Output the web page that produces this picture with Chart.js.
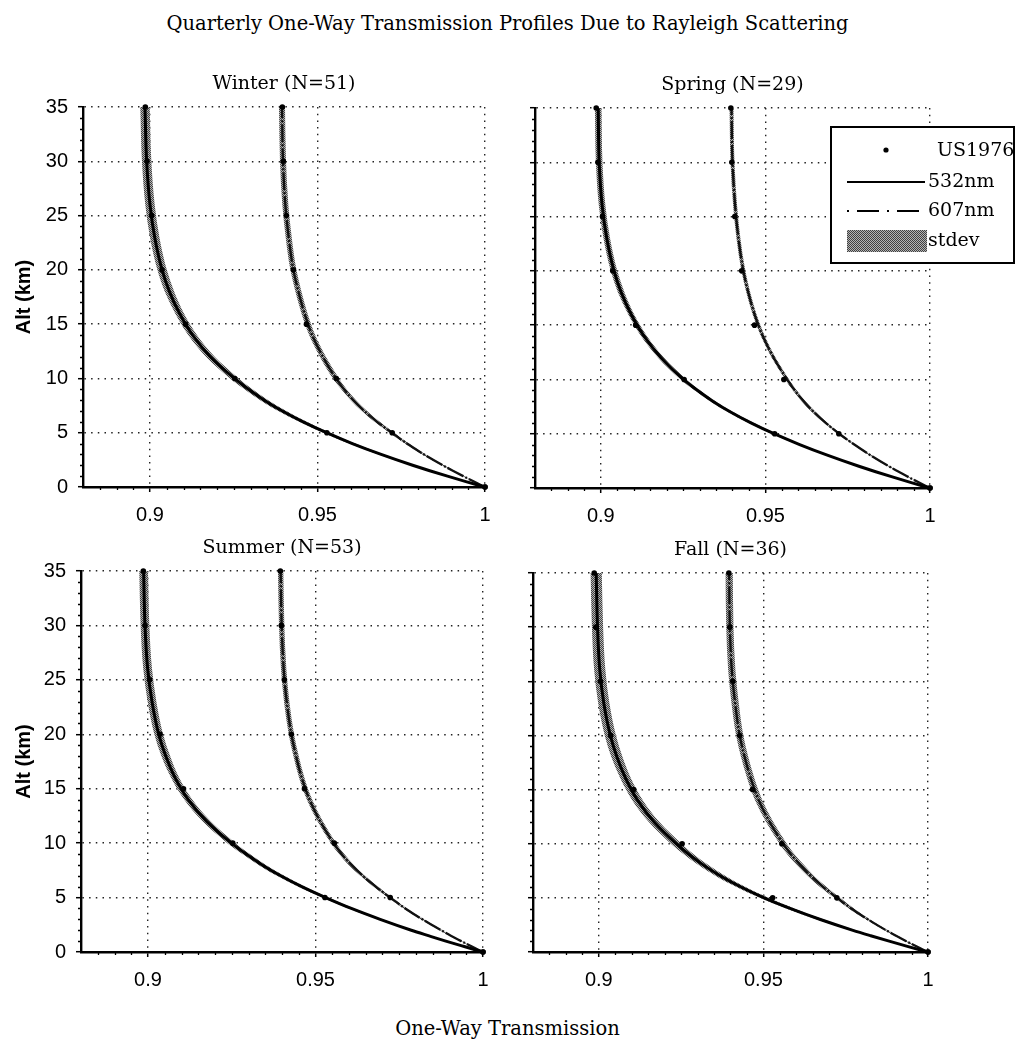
<!DOCTYPE html>
<html>
<head>
<meta charset="utf-8">
<script src="https://cdn.jsdelivr.net/npm/chart.js@4.4.0/dist/chart.umd.min.js"></script>
<style>
  body { margin: 0; background: #fff; width: 1015px; height: 1040px; position: relative; overflow: hidden; }
  canvas { position: absolute; }
  .ttl { position: absolute; left: 0; width: 1015px; text-align: center; font-family: "DejaVu Serif", serif;
         font-size: 19.5px; line-height: 19px; color: #000; }
</style>
</head>
<body>
<div class="ttl" style="top:14px">Quarterly One-Way Transmission Profiles Due to Rayleigh Scattering</div>
<canvas id="winter" width="505" height="472" style="left:0px;top:60px"></canvas>
<canvas id="spring" width="510" height="472" style="left:505px;top:61px"></canvas>
<canvas id="summer" width="503" height="473" style="left:0px;top:524px"></canvas>
<canvas id="fall" width="445" height="471" style="left:503px;top:526px"></canvas>
<div class="ttl" style="top:1019px">One-Way Transmission</div>
<script>
// altitude grid (km) shared by all profiles
var altitudes = [0, 0.5, 1, 1.5, 2, 3, 4, 5, 6, 7, 8, 9, 10, 12, 14, 16, 18, 20, 23, 26, 30, 35];

var winter532 = [1.0000, 0.9943, 0.9888, 0.9835, 0.9784, 0.9690, 0.9604, 0.9527, 0.9457, 0.9395, 0.9341, 0.9294, 0.9252, 0.9180, 0.9127, 0.9088, 0.9058, 0.9036, 0.9014, 0.9000, 0.8990, 0.8985];
var winter607 = [1.0000, 0.9967, 0.9935, 0.9904, 0.9874, 0.9818, 0.9767, 0.9722, 0.9678, 0.9640, 0.9607, 0.9579, 0.9555, 0.9516, 0.9484, 0.9461, 0.9443, 0.9428, 0.9414, 0.9404, 0.9397, 0.9394];
var spring532 = [1.0000, 0.9943, 0.9888, 0.9835, 0.9784, 0.9690, 0.9604, 0.9526, 0.9456, 0.9394, 0.9340, 0.9293, 0.9251, 0.9183, 0.9131, 0.9092, 0.9062, 0.9040, 0.9018, 0.9004, 0.8995, 0.8992];
var spring607 = [1.0000, 0.9967, 0.9935, 0.9905, 0.9875, 0.9820, 0.9770, 0.9724, 0.9683, 0.9647, 0.9616, 0.9589, 0.9566, 0.9525, 0.9492, 0.9467, 0.9448, 0.9433, 0.9418, 0.9408, 0.9400, 0.9397];
var summer532 = [1.0000, 0.9944, 0.9889, 0.9837, 0.9786, 0.9693, 0.9607, 0.9530, 0.9459, 0.9396, 0.9341, 0.9293, 0.9249, 0.9175, 0.9120, 0.9081, 0.9053, 0.9032, 0.9012, 0.8999, 0.8991, 0.8987];
var summer607 = [1.0000, 0.9967, 0.9935, 0.9904, 0.9875, 0.9819, 0.9768, 0.9723, 0.9680, 0.9641, 0.9607, 0.9578, 0.9554, 0.9514, 0.9482, 0.9459, 0.9442, 0.9428, 0.9414, 0.9405, 0.9399, 0.9396];
var fall532   = [1.0000, 0.9940, 0.9882, 0.9826, 0.9772, 0.9673, 0.9583, 0.9502, 0.9432, 0.9371, 0.9319, 0.9274, 0.9235, 0.9168, 0.9118, 0.9082, 0.9055, 0.9035, 0.9015, 0.9003, 0.8996, 0.8992];
var fall607   = [1.0000, 0.9966, 0.9934, 0.9903, 0.9873, 0.9818, 0.9768, 0.9724, 0.9682, 0.9645, 0.9613, 0.9584, 0.9560, 0.9519, 0.9486, 0.9462, 0.9443, 0.9428, 0.9414, 0.9404, 0.9398, 0.9396];

// standard deviation of transmission at each altitude
var winterSd532 = [0, 0.0003, 0.0004, 0.0005, 0.0006, 0.0008, 0.0009, 0.0010, 0.0011, 0.0012, 0.0012, 0.0012, 0.0013, 0.0013, 0.0013, 0.0013, 0.0014, 0.0014, 0.0014, 0.0014, 0.0014, 0.0014];
var winterSd607 = [0, 0.0002, 0.0003, 0.0004, 0.0004, 0.0005, 0.0006, 0.0007, 0.0008, 0.0008, 0.0008, 0.0008, 0.0009, 0.0009, 0.0009, 0.0009, 0.0009, 0.0009, 0.0009, 0.0009, 0.0009, 0.0009];
var springSd532 = [0, 0.0002, 0.0003, 0.0004, 0.0004, 0.0005, 0.0006, 0.0007, 0.0008, 0.0008, 0.0008, 0.0008, 0.0009, 0.0009, 0.0009, 0.0009, 0.0010, 0.0010, 0.0010, 0.0010, 0.0010, 0.0010];
var springSd607 = [0, 0.0001, 0.0002, 0.0003, 0.0003, 0.0004, 0.0004, 0.0005, 0.0005, 0.0006, 0.0006, 0.0006, 0.0006, 0.0006, 0.0006, 0.0006, 0.0006, 0.0006, 0.0006, 0.0006, 0.0006, 0.0006];
var summerSd532 = [0, 0.0003, 0.0004, 0.0005, 0.0005, 0.0007, 0.0008, 0.0009, 0.0010, 0.0011, 0.0011, 0.0011, 0.0012, 0.0012, 0.0012, 0.0012, 0.0013, 0.0013, 0.0013, 0.0013, 0.0013, 0.0013];
var summerSd607 = [0, 0.0002, 0.0003, 0.0003, 0.0004, 0.0005, 0.0005, 0.0006, 0.0007, 0.0007, 0.0008, 0.0008, 0.0008, 0.0008, 0.0008, 0.0008, 0.0008, 0.0008, 0.0008, 0.0008, 0.0008, 0.0008];
var fallSd532   = [0, 0.0004, 0.0005, 0.0006, 0.0008, 0.0010, 0.0012, 0.0013, 0.0014, 0.0015, 0.0015, 0.0015, 0.0016, 0.0016, 0.0016, 0.0016, 0.0017, 0.0017, 0.0017, 0.0017, 0.0017, 0.0017];
var fallSd607   = [0, 0.0003, 0.0004, 0.0005, 0.0005, 0.0006, 0.0008, 0.0009, 0.0010, 0.0010, 0.0011, 0.0011, 0.0011, 0.0011, 0.0011, 0.0011, 0.0011, 0.0011, 0.0011, 0.0011, 0.0011, 0.0011];

// US Standard Atmosphere 1976 reference points
var usAltitudes = [0, 5, 10, 15, 20, 25, 30, 35];
var us532 = [1.0000, 0.9528, 0.9253, 0.9106, 0.9036, 0.9005, 0.8991, 0.8986];
var us607 = [1.0000, 0.9723, 0.9556, 0.9467, 0.9428, 0.9407, 0.9398, 0.9395];

var seasonTitles = ['Winter (N=51)', 'Spring (N=29)', 'Summer (N=53)', 'Fall (N=36)'];
var legendLabels = ['US1976', '532nm', '607nm', 'stdev'];
var xTicks = [0.9, 0.95, 1];
var xMin = 0.88, xMax = 1;
var yMin = 0, yMax = 35;

function pts(ys, xs) {
    return ys.map(function(y, i){ return {x: xs[i], y: y}; });
}

function stipple() {
    var c = document.createElement('canvas');
    c.width = 4; c.height = 4;
    var g = c.getContext('2d');
    g.fillStyle = '#b4b4b4';
    g.fillRect(0, 0, 4, 4);
    g.fillStyle = '#404040';
    [[0,0],[2,0],[1,1],[3,1],[0,2],[2,2],[1,3],[3,3]].forEach(function(p){ g.fillRect(p[0], p[1], 1, 1); });
    return g.createPattern(c, 'repeat');
}

var dash607 = [18, 2, 2, 2];

var minorTicks = {
    id: 'minorTicks',
    afterDraw: function(chart){
        var ctx = chart.ctx, xs = chart.scales.x, ys = chart.scales.y, a = chart.chartArea;
        ctx.save();
        ctx.strokeStyle = '#000';
        ctx.lineWidth = 1.3;
        ctx.beginPath();
        for (var k = 1; k < 35; k++) {
            if (k % 5 === 0) continue;
            var py = Math.round(ys.getPixelForValue(k)) + 0.5;
            ctx.moveTo(a.left - 3, py); ctx.lineTo(a.left, py);
        }
        for (var j = 1; j < 24; j++) {
            if (j === 4 || j === 14) continue;
            var px = Math.round(xs.getPixelForValue(xMin + j * 0.005)) + 0.5;
            ctx.moveTo(px, a.bottom); ctx.lineTo(px, a.bottom + 3);
        }
        ctx.stroke();
        ctx.restore();
    }
};

var boxLegend = {
    id: 'boxLegend',
    afterDraw: function(chart){
        var ctx = chart.ctx, a = chart.chartArea;
        var x0 = a.right - 99, y0 = a.top + 19, w = 183, h = 136;
        ctx.save();
        ctx.fillStyle = '#fff';
        ctx.fillRect(x0, y0, w, h);
        ctx.lineWidth = 2;
        ctx.strokeStyle = '#000';
        ctx.strokeRect(x0, y0, w, h);
        ctx.fillStyle = '#000';
        ctx.font = '19px "DejaVu Serif"';
        ctx.textBaseline = 'middle';
        // US1976 dot
        ctx.beginPath();
        ctx.arc(x0 + 55, y0 + 23, 2.6, 0, Math.PI * 2);
        ctx.fill();
        ctx.fillText(legendLabels[0], x0 + 106, y0 + 24);
        // 532nm solid
        ctx.lineWidth = 2;
        ctx.beginPath();
        ctx.moveTo(x0 + 16, y0 + 55); ctx.lineTo(x0 + 94, y0 + 55);
        ctx.stroke();
        ctx.fillText(legendLabels[1], x0 + 97, y0 + 55);
        // 607nm dash-dot
        ctx.setLineDash([2, 8, 22, 8]);
        ctx.beginPath();
        ctx.moveTo(x0 + 16, y0 + 84); ctx.lineTo(x0 + 96, y0 + 84);
        ctx.stroke();
        ctx.setLineDash([]);
        ctx.fillText(legendLabels[2], x0 + 97, y0 + 84);
        // stdev swatch
        ctx.fillStyle = stipple();
        ctx.fillRect(x0 + 16, y0 + 103, 80, 22);
        ctx.fillStyle = '#000';
        ctx.fillText(legendLabels[3], x0 + 97, y0 + 114);
        ctx.restore();
    }
};

Chart.defaults.font.family = '"Liberation Sans", Arial, sans-serif';
Chart.defaults.font.size = 20;
Chart.defaults.color = '#000';

function makeChart(id, title, t532, t607, sd532, sd607, showY, yWidth, padRight, withLegend) {
    var fillPat = stipple();
    var lo532 = t532.map(function(v, i){ return v - sd532[i]; });
    var hi532 = t532.map(function(v, i){ return v + sd532[i]; });
    var lo607 = t607.map(function(v, i){ return v - sd607[i]; });
    var hi607 = t607.map(function(v, i){ return v + sd607[i]; });
    var band = {borderWidth: 0, borderColor: 'rgba(0,0,0,0)', pointRadius: 0, order: 5, cubicInterpolationMode: 'monotone'};

    var ctx = document.getElementById(id).getContext('2d');
    return new Chart(ctx, {
        type: 'line',
        data: {
            datasets: [
                Object.assign({label: 'stdev', data: pts(altitudes, lo532), fill: false}, band),
                Object.assign({label: 'stdev', data: pts(altitudes, hi532), fill: '-1', backgroundColor: fillPat}, band),
                Object.assign({label: 'stdev', data: pts(altitudes, lo607), fill: false}, band),
                Object.assign({label: 'stdev', data: pts(altitudes, hi607), fill: '-1', backgroundColor: fillPat}, band),
                {label: '532nm', data: pts(altitudes, t532), borderColor: '#000', borderWidth: 3,
                 pointRadius: 0, fill: false, order: 2, cubicInterpolationMode: 'monotone', clip: 8},
                {label: '607nm', data: pts(altitudes, t607), borderColor: '#111', borderWidth: 2.3,
                 borderDash: dash607, pointRadius: 0, fill: false, order: 2, cubicInterpolationMode: 'monotone', clip: 8},
                {label: 'US1976', data: pts(usAltitudes, us532), showLine: false, pointRadius: 2.8,
                 pointBackgroundColor: '#000', pointBorderWidth: 0, order: 0, clip: 8},
                {label: 'US1976', data: pts(usAltitudes, us607), showLine: false, pointRadius: 2.8,
                 pointBackgroundColor: '#000', pointBorderWidth: 0, order: 0, clip: 8}
            ]
        },
        options: {
            indexAxis: 'y',
            responsive: false,
            animation: false,
            devicePixelRatio: 1,
            layout: {padding: {left: 0, right: padRight, top: 0, bottom: 0}},
            plugins: {
                legend: {display: false},
                tooltip: {enabled: false},
                title: {
                    display: true, text: title, fullSize: false, color: '#000',
                    font: {family: '"DejaVu Serif", serif', size: 19, weight: 'normal'},
                    padding: {top: 12.6, bottom: 11.6}
                }
            },
            scales: {
                x: {
                    type: 'linear', position: 'bottom', min: xMin, max: xMax,
                    afterBuildTicks: function(s){ s.ticks = xTicks.map(function(v){ return {value: v}; }); },
                    afterFit: function(s){ s.height = 45; },
                    ticks: {padding: 11, maxRotation: 0, callback: function(v){ return String(v); }},
                    grid: {color: '#222', lineWidth: 1.4, tickLength: 5, tickColor: '#000', tickWidth: 1.5},
                    border: {display: true, color: '#000', width: 2.4, dash: [1.5, 5.2]}
                },
                y: {
                    type: 'linear', position: 'left', min: yMin, max: yMax,
                    afterFit: function(s){ s.width = yWidth; },
                    ticks: {stepSize: 5, padding: 10, display: showY},
                    title: {display: showY, text: 'Alt (km)', font: {size: 20, weight: 'bold'}, padding: {top: 12, bottom: 0}},
                    grid: {color: '#222', lineWidth: 1.4, tickLength: 5, tickColor: '#000', tickWidth: 1.5},
                    border: {display: true, color: '#000', width: 2.4, dash: [1.5, 5.2]}
                }
            }
        },
        plugins: withLegend ? [minorTicks, boxLegend] : [minorTicks]
    });
}

makeChart('winter', seasonTitles[0], winter532, winter607, winterSd532, winterSd607, true, 83, 20, false);
makeChart('spring', seasonTitles[1], spring532, spring607, springSd532, springSd607, false, 30, 85, true);
makeChart('summer', seasonTitles[2], summer532, summer607, summerSd532, summerSd607, true, 81, 20, false);
makeChart('fall', seasonTitles[3], fall532, fall607, fallSd532, fallSd607, false, 30, 20, false);
</script>
</body>
</html>
